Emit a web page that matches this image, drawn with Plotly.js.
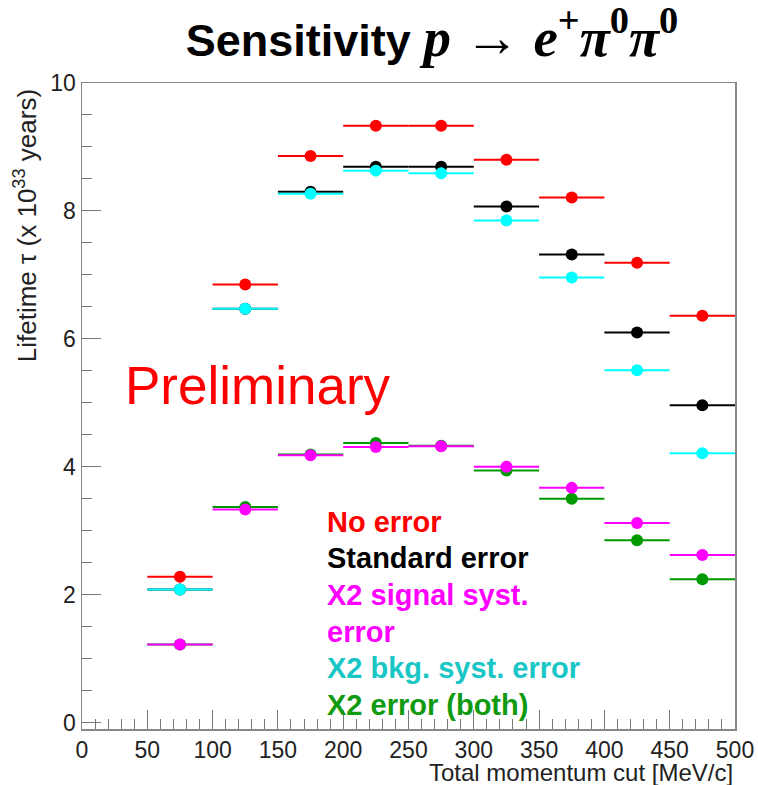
<!DOCTYPE html>
<html>
<head>
<meta charset="utf-8">
<script src="https://cdn.plot.ly/plotly-3.0.1.min.js"></script>
<style>html,body{margin:0;padding:0;background:#fff;}</style>
</head>
<body>
<div id="chart" style="width:758px;height:785px;"></div>
<script>
// Bin centres (MeV/c) and half bin widths
const binCenters = [75, 125, 175, 225, 275, 325, 375, 425, 475];
const binHalfWidth = [25, 25, 25, 25, 25, 25, 25, 25, 25];

// Lifetime (x 10^33 years)
const noError       = [2.28, 6.85, 8.86, 9.33, 9.33, 8.80, 8.21, 7.19, 6.36];
const standardError = [2.08, 6.47, 8.30, 8.69, 8.69, 8.07, 7.32, 6.10, 4.96];
const bkgSyst       = [2.08, 6.47, 8.27, 8.63, 8.59, 7.85, 6.96, 5.51, 4.21];
const bothError     = [1.22, 3.37, 4.19, 4.37, 4.33, 3.94, 3.50, 2.85, 2.24];
const signalSyst    = [1.22, 3.33, 4.18, 4.31, 4.32, 4.00, 3.67, 3.12, 2.62];

const xTickVals = [0, 50, 100, 150, 200, 250, 300, 350, 400, 450, 500];
const yTickVals = [0, 2, 4, 6, 8, 10];

const legendLabels = ["No error", "Standard error", "X2 signal syst.", "error", "X2 bkg. syst. error", "X2 error (both)"];

function series(y, color, name) {
  return {
    type: 'scatter', mode: 'markers', name: name,
    x: binCenters, y: y,
    marker: {color: color, size: 12, symbol: 'circle'},
    error_x: {type: 'data', array: binHalfWidth, visible: true, width: 0, thickness: 2, color: color},
    hoverinfo: 'x+y'
  };
}

const data = [
  series(noError, '#ff0000', 'No error'),
  series(standardError, '#000000', 'Standard error'),
  series(bkgSyst, '#00ffff', 'X2 bkg. syst. error'),
  series(bothError, '#009900', 'X2 error (both)'),
  series(signalSyst, '#ff00ff', 'X2 signal syst. error')
];

const font = "'Liberation Sans', Arial, Helvetica, sans-serif";
const legendColors = ['#ff0000', '#000000', '#ff00ff', '#ff00ff', '#19c6c6', '#109a10'];
const legendY = [0.320, 0.265, 0.207, 0.150, 0.094, 0.037];

const annotations = legendLabels.map((t, i) => ({
  xref: 'paper', yref: 'paper', x: 0.372, y: legendY[i],
  xanchor: 'left', yanchor: 'middle', showarrow: false,
  text: '<b>' + t + '</b>',
  font: {family: font, size: 29, color: legendColors[i]}
}));

annotations.push({
  xref: 'paper', yref: 'paper', x: 0.063, y: 0.531,
  xanchor: 'left', yanchor: 'middle', showarrow: false,
  text: 'Preliminary',
  font: {family: font, size: 53, color: '#ff0000'}
});
annotations.push({
  xref: 'paper', yref: 'paper', x: 1.0, y: -0.068,
  xanchor: 'right', yanchor: 'middle', showarrow: false,
  text: 'Total momentum cut [MeV/c]',
  font: {family: font, size: 24, color: '#222'}
});
annotations.push({
  xref: 'paper', yref: 'paper', x: -0.086, y: 0.994,
  xanchor: 'center', yanchor: 'top', showarrow: false, textangle: -90,
  text: 'Lifetime τ (x 10<sup>33</sup> years)',
  font: {family: font, size: 26, color: '#222'}
});

const layout = {
  width: 758, height: 785,
  margin: {l: 82, r: 23, t: 83, b: 56},
  paper_bgcolor: '#ffffff', plot_bgcolor: '#ffffff',
  showlegend: false,
  title: {
    text: "<b>Sensitivity</b> <span style=\"font-family:'Liberation Serif',serif;font-size:55px\"><b><i>p</i></b> → <b><i>e</i><sup>+</sup><i>π</i><sup>0</sup><i>π</i><sup>0</sup></b></span>",
    x: 0.570, xanchor: 'center', y: 0.949, yanchor: 'middle',
    font: {family: font, size: 45, color: '#000'}
  },
  xaxis: {
    range: [0, 500], tickvals: xTickVals, ticktext: xTickVals.map(String),
    ticks: 'inside', ticklen: 19, tickwidth: 1, tickcolor: '#777',
    minor: {dtick: 10, tick0: 0, ticks: 'inside', ticklen: 10, tickwidth: 1, tickcolor: '#777'},
    showgrid: false, zeroline: false,
    showline: true, mirror: true, linecolor: '#888', linewidth: 1.5,
    tickfont: {family: font, size: 23, color: '#222'}
  },
  yaxis: {
    range: [-0.1, 10], tickvals: yTickVals, ticktext: yTickVals.map(String),
    ticks: 'inside', ticklen: 19, tickwidth: 1, tickcolor: '#777',
    minor: {dtick: 0.5, tick0: 0, ticks: 'inside', ticklen: 10, tickwidth: 1, tickcolor: '#777'},
    showgrid: false, zeroline: false,
    showline: true, mirror: true, linecolor: '#888', linewidth: 1.5,
    tickfont: {family: font, size: 23, color: '#222'}
  },
  annotations: annotations
};

Plotly.newPlot('chart', data, layout, {displayModeBar: false, staticPlot: true});
</script>
</body>
</html>
